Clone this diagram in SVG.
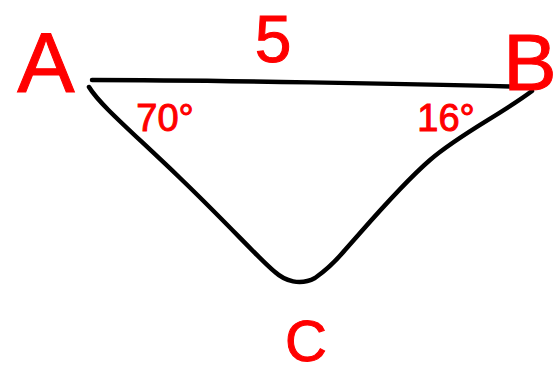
<svg xmlns="http://www.w3.org/2000/svg" width="559" height="376" viewBox="0 0 559 376">
<style>
.edge{fill:none;stroke:#000;stroke-width:4.5;stroke-linecap:round;stroke-linejoin:round}
.lbl{font-family:"Liberation Sans",Arial,sans-serif;fill:#ff0000;stroke:#ff0000;stroke-width:1;text-anchor:middle}
</style>
<rect width="559" height="376" fill="#fff"/>
<g id="connectors">
<path class="edge" d="M92,80 C200,80 420,84 530,87"/>
<path class="edge" d="M89,87 C100,105 130,130 180,178 C230,226 260,260 275,272 C285,281 300,286 315,278 C325,271 335,262 345,250 C370,222 400,186 430,160 C460,134 500,115 532,91"/>
</g>
<g id="node-A"><text class="lbl" x="46" y="92" font-size="86">A</text></g>
<g id="node-B"><text class="lbl" x="530" y="90" font-size="80">B</text></g>
<g id="node-C"><text class="lbl" x="306" y="361" font-size="58">C</text></g>
<g id="label-side"><text class="lbl" x="273" y="62" font-size="66">5</text></g>
<g id="label-angleA"><text class="lbl" x="165" y="131" font-size="38">70°</text></g>
<g id="label-angleB"><text class="lbl" x="446" y="131" font-size="38">16°</text></g>
</svg>
